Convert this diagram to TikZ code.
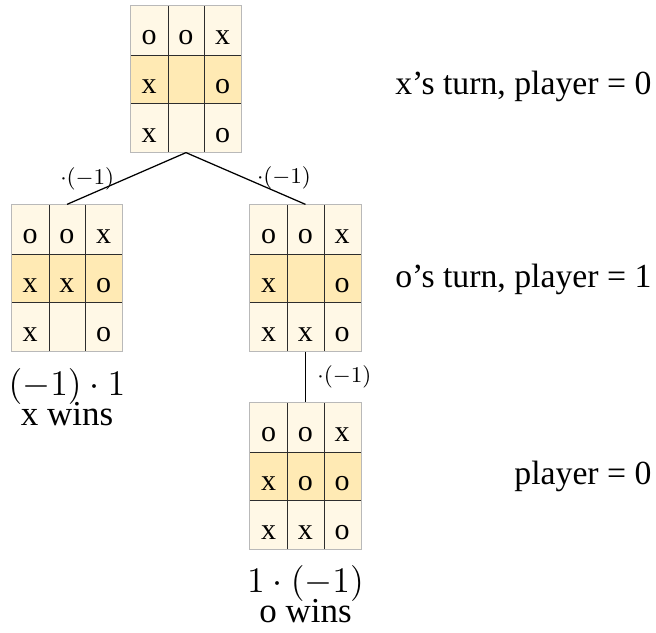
\documentclass[tikz,border=0pt]{standalone}
\usepackage{fontspec}
\setmainfont{Liberation Serif}
\usetikzlibrary{matrix}

\definecolor{cellpale}{RGB}{255,248,230}
\definecolor{cellmid}{RGB}{255,234,180}
\definecolor{rimgray}{RGB}{185,185,185}
\definecolor{gridline}{RGB}{45,45,45}

\tikzset{
  board/.style={matrix of nodes,
                nodes in empty cells,
                ampersand replacement=\&,
                inner sep=0pt, row sep=0pt, column sep=0pt,
                nodes={minimum width=14.7pt, minimum height=19.5pt, inner sep=0pt,
                       text height=11.5pt, text depth=0pt,
                       font=\fontsize{12}{14}\selectfont, fill=cellpale},
                row 2/.style={nodes={fill=cellmid}}},
  grid/.style={draw=gridline, line width=0.4pt},
  rim/.style={draw=rimgray, line width=0.4pt},
  edge/.style={draw=black, line width=0.5pt},
  negmark/.style={font=\fontsize{9}{10}\selectfont, inner sep=0pt},
  outcome/.style={font=\fontsize{14}{12.4}\selectfont, align=center, inner sep=0pt},
  turnnote/.style={font=\fontsize{13.5}{16}\selectfont, inner sep=0pt, anchor=base east}
}

\newcommand{\boardgrid}[1]{%
  \draw[grid] (#1-1-1.north east) -- (#1-3-1.south east);
  \draw[grid] (#1-1-2.north east) -- (#1-3-2.south east);
  \draw[grid] (#1-1-1.south west) -- (#1-1-3.south east);
  \draw[grid] (#1-2-1.south west) -- (#1-2-3.south east);
  \draw[rim] (#1.north west) rectangle (#1.south east);
}

\begin{document}
\begin{tikzpicture}[x=0.4pt, y=-0.4pt]
    \useasboundingbox (0,0) rectangle (656,633);

    % root: x to move
    \matrix (root) [board] at (186,79) {
      o \& o \& x \\
      x \&   \& o \\
      x \&   \& o \\
    };
    \boardgrid{root}

    % x plays the middle: x wins
    \matrix (xwin) [board] at (67,278) {
      o \& o \& x \\
      x \& x \& o \\
      x \&   \& o \\
    };
    \boardgrid{xwin}

    % x plays the bottom
    \matrix (xlow) [board] at (305.5,278) {
      o \& o \& x \\
      x \&   \& o \\
      x \& x \& o \\
    };
    \boardgrid{xlow}

    % o fills the last cell: o wins
    \matrix (owin) [board] at (305.5,476) {
      o \& o \& x \\
      x \& o \& o \\
      x \& x \& o \\
    };
    \boardgrid{owin}

    % connectors
    \draw[edge] (root.south) -- (xwin.north)
      node (negleft) [negmark, pos=0.83, above=2pt] {$\cdot(-1)$};
    \draw[edge] (root.south) -- (xlow.north)
      node (negright) [negmark, pos=0.82, above=2pt] {$\cdot(-1)$};
    \draw[edge] (xlow.south) -- (owin.north)
      node (negdown) [negmark, midway, right=4.5pt] {$\cdot(-1)$};

    % outcomes
    \node (xscore) [outcome, below=6.4pt] at (xwin.south) {$(-1)\cdot 1$\\[-1.6pt]x wins};
    \node (oscore) [outcome, below=6pt] at (owin.south) {$1\cdot(-1)$\\[-1.6pt]o wins};

    % turn notes
    \node (turnx) [turnnote] at (652,95) {x’s turn, player = 0};
    \node (turno) [turnnote] at (652,288) {o’s turn, player = 1};
    \node (turnend) [turnnote] at (652,485) {player = 0};
\end{tikzpicture}
\end{document}
